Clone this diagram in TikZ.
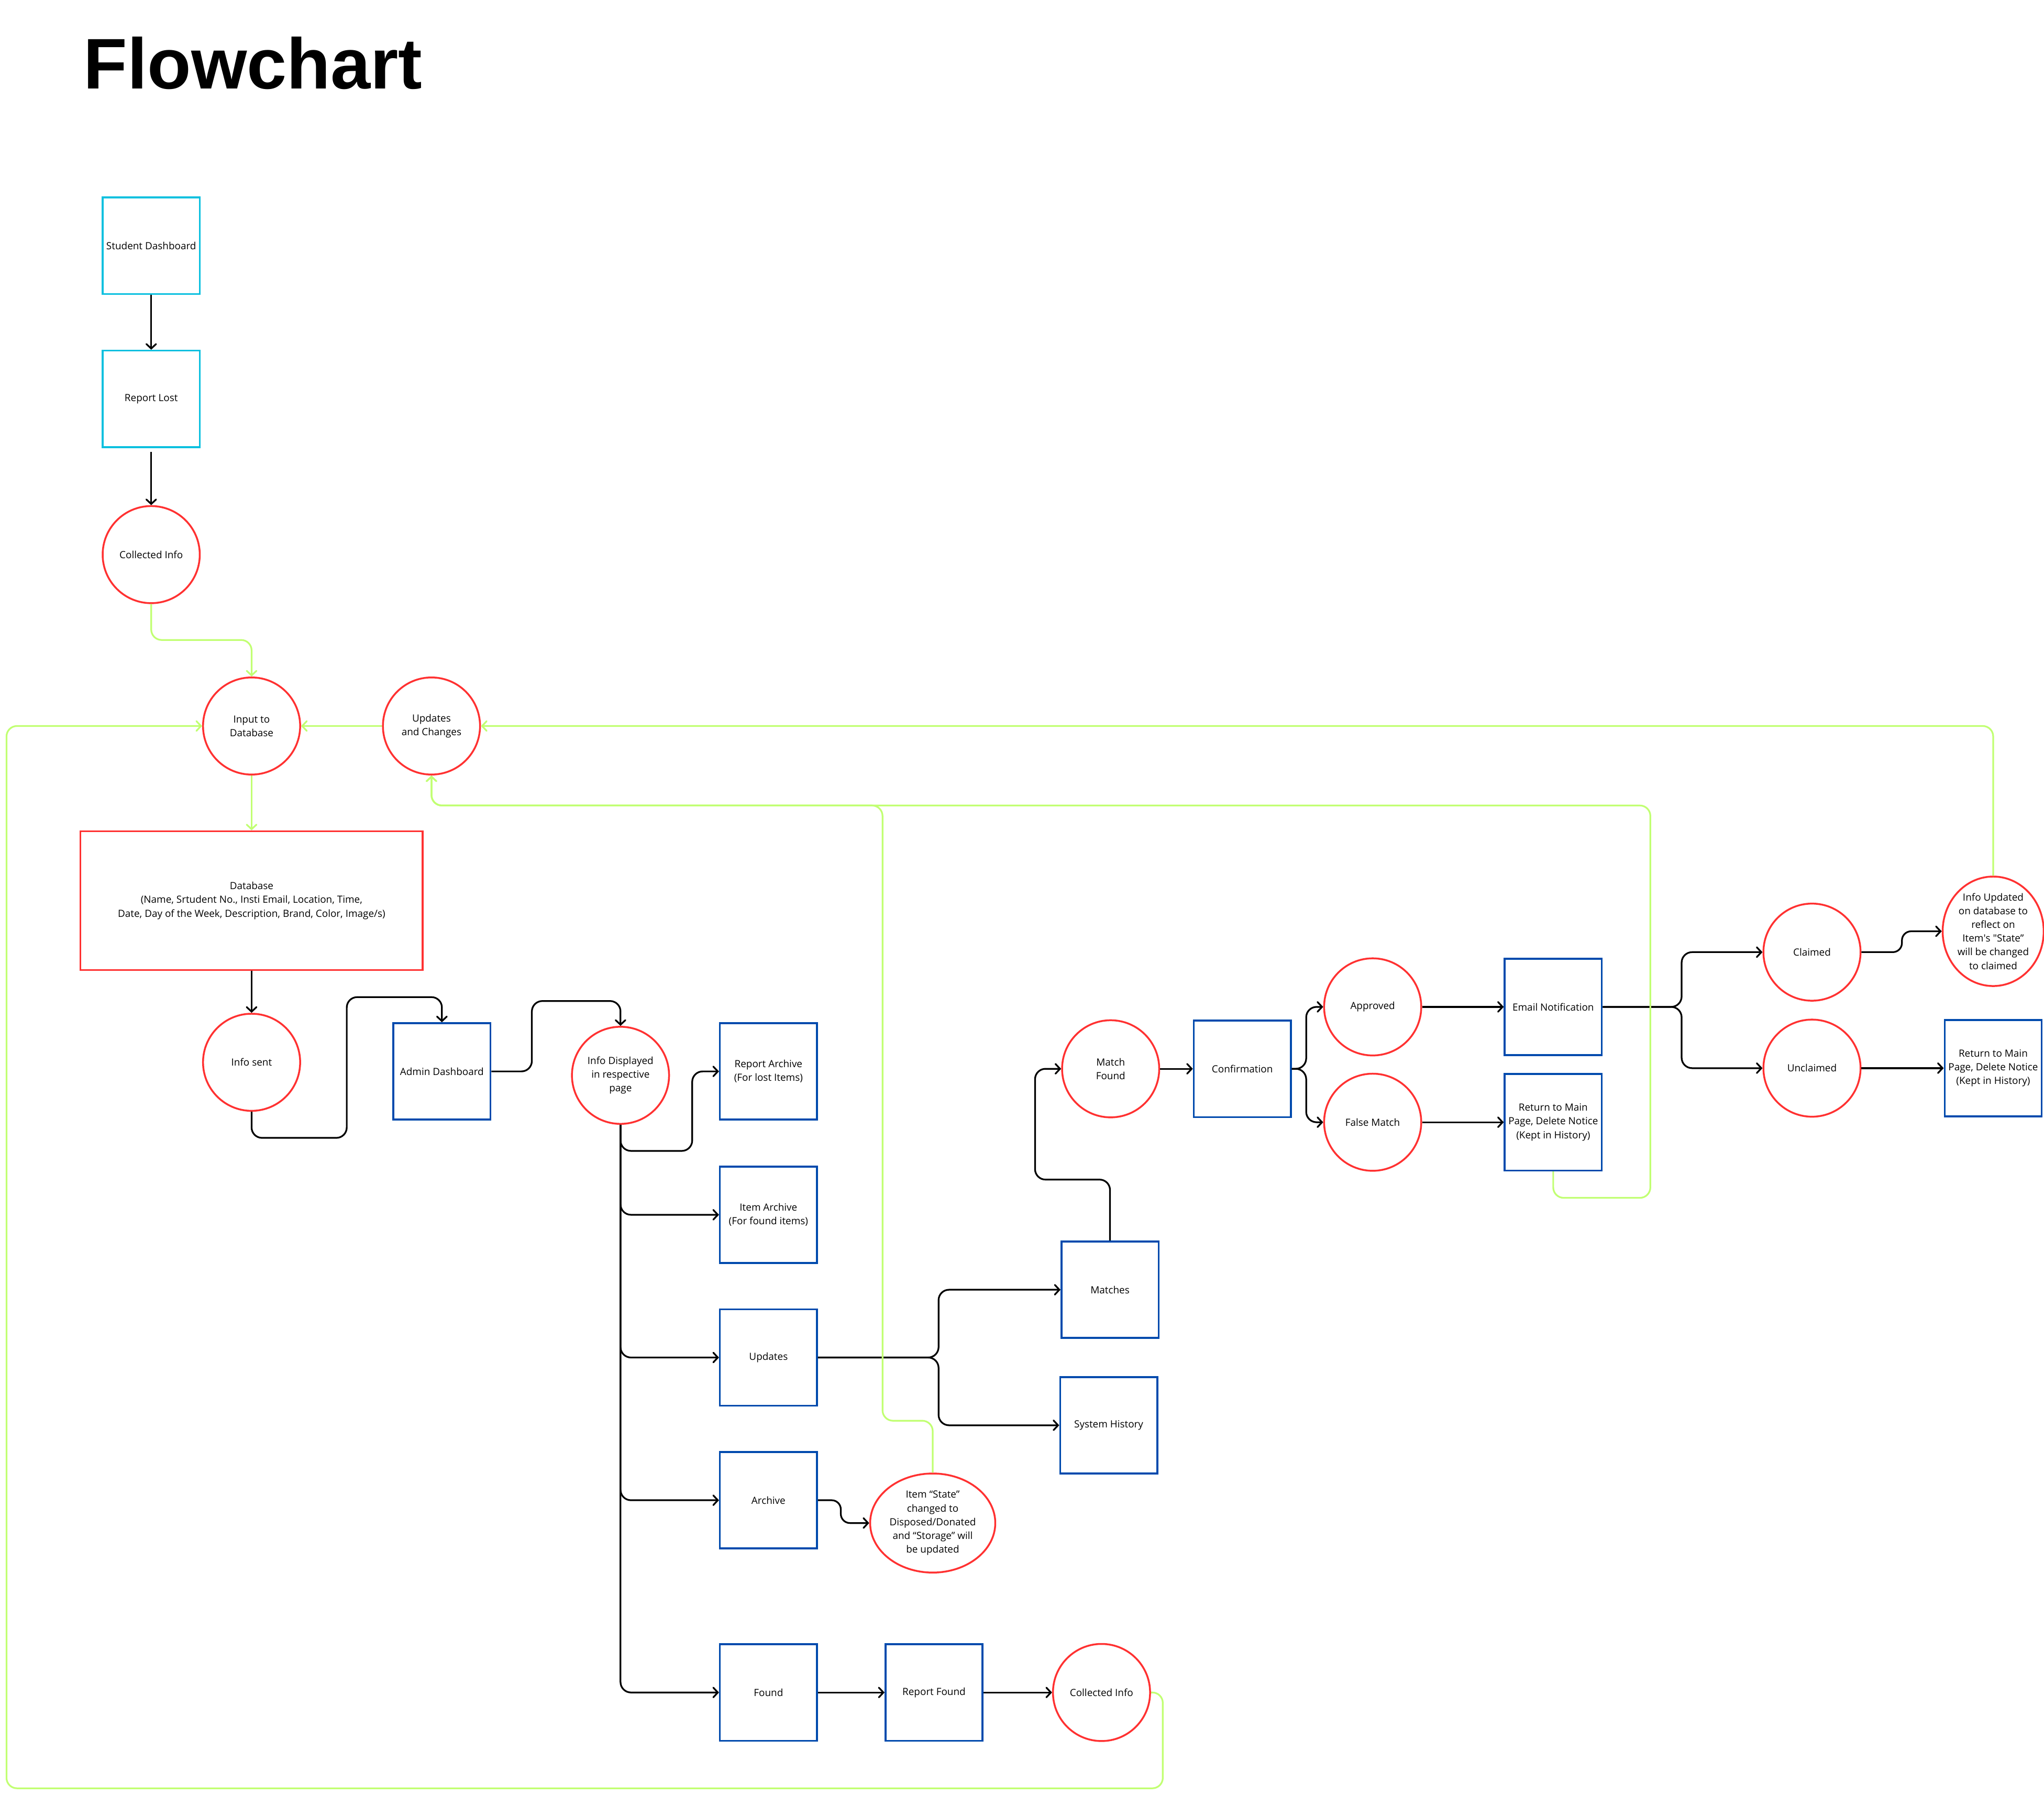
\documentclass[tikz,border=0pt]{standalone}
\usepackage{fontspec}
\setmainfont{Open Sans}
\newfontfamily\titlefont{Liberation Sans}
\usetikzlibrary{shapes.geometric,arrows.meta}
\definecolor{redc}{HTML}{FF3131}
\definecolor{bluec}{HTML}{004AAD}
\definecolor{cyanc}{HTML}{0CC0DF}
\definecolor{greenc}{HTML}{C1FF72}
\tikzset{
  lbl/.style={align=center, font=\fontsize{7.6}{10.5}\selectfont, text=black},
  box/.style={lbl, rectangle, draw, line width=1.4pt, minimum width=74.5pt, minimum height=74pt, inner sep=1pt},
  cbox/.style={box, draw=cyanc},
  bbox/.style={box, draw=bluec},
  rbox/.style={box, draw=redc},
  circ/.style={lbl, ellipse, draw=redc, line width=1.4pt, minimum width=74.5pt, minimum height=74.5pt, inner sep=0pt},
  tip/.style={-{Straight Barb[length=3.5pt,width=7.5pt,line cap=round]}},
  blk/.style={draw=black, line width=1.3pt, rounded corners=8pt, tip},
  grn/.style={draw=greenc, line width=1.3pt, rounded corners=8pt, tip},
}
\begin{document}
\begin{tikzpicture}[x=1pt,y=1pt]
\useasboundingbox[fill=white] (0,0) rectangle (1568,-1377);

% title
\node[anchor=base west, inner sep=0pt, font=\titlefont\bfseries\fontsize{55}{60}\selectfont] (title) at (64,-68) {Flowchart};

% student side
\node[cbox] (sdash) at (116,-188.5) {Student Dashboard};
\node[cbox] (rlost) at (116,-306) {Report Lost};
\node[circ] (coll1) at (116,-425.5) {Collected Info};

% database area
\node[circ] (input) at (193,-557) {Input to\\Database};
\node[circ] (updch) at (331,-557) {Updates\\and Changes};
\node[rbox, minimum width=262.5pt, minimum height=106.5pt] (db) at (193,-691) {Database\\(Name, Srtudent No., Insti Email, Location, Time,\\Date, Day of the Week, Description, Brand, Color, Image/s)};
\node[circ] (isent) at (193,-815) {Info sent};
\node[bbox] (admin) at (339,-822) {Admin Dashboard};
\node[circ] (idisp) at (476,-825) {Info Displayed\\in respective\\page};

% archive column
\node[bbox] (rarch) at (589.5,-822) {Report Archive\\(For lost Items)};
\node[bbox] (iarch) at (589.5,-932) {Item Archive\\(For found items)};
\node[bbox] (upd) at (589.5,-1041.5) {Updates};
\node[bbox] (arch) at (589.5,-1151) {Archive};
\node[bbox] (found) at (589.5,-1298.5) {Found};
\node[bbox] (rfound) at (716.5,-1298.5) {Report Found};
\node[circ] (coll2) at (845,-1298.5) {Collected Info};
\node[circ, minimum width=96pt, minimum height=76pt] (istate) at (715.5,-1168.5) {Item “State”\\changed to\\Disposed/Donated\\and “Storage” will\\be updated};

% matching
\node[bbox] (matches) at (851.5,-989.5) {Matches};
\node[bbox] (syshist) at (850.5,-1093.5) {System History};
\node[circ] (mfound) at (852,-820) {Match\\Found};
\node[bbox] (conf) at (953,-820) {Confirmation};
\node[circ] (appr) at (1053,-772.5) {Approved};
\node[circ] (fmatch) at (1053,-861) {False Match};
\node[bbox] (email) at (1191.5,-772.5) {Email Notification};
\node[bbox] (ret1) at (1191.5,-861) {Return to Main\\Page, Delete Notice\\(Kept in History)};
\node[circ] (claimed) at (1390,-730.5) {Claimed};
\node[circ] (unclaimed) at (1390,-819.5) {Unclaimed};
\node[circ, minimum width=74.5pt, minimum height=84pt] (iupd) at (1529,-714.5) {Info Updated\\on database to\\reflect on\\Item\textquotesingle s \textquotedbl State”\\will be changed\\to claimed};
\node[bbox] (ret2) at (1529,-819.5) {Return to Main\\Page, Delete Notice\\(Kept in History)};

% black connectors
\draw[blk] (sdash.south) -- (rlost.north);
\draw[blk] ([yshift=-3pt]rlost.south) -- (coll1.north);
\draw[blk] (db.south) -- (isent.north);
\draw[blk] (isent.south) -- (193,-873) -- (266,-873) -- (266,-765) -- (339,-765) -- (admin.north);
\draw[blk] (admin.east) -- (408,-822) -- (408,-768) -- (476,-768) -- (idisp.north);
\draw[blk] (idisp.south) -- (476,-883) -- (531,-883) -- (531,-822) -- (rarch.west);
\draw[blk] (idisp.south) -- (476,-932) -- (iarch.west);
\draw[blk] (idisp.south) -- (476,-1041.5) -- (upd.west);
\draw[blk] (idisp.south) -- (476,-1151) -- (arch.west);
\draw[blk] (idisp.south) -- (476,-1298.5) -- (found.west);
\draw[blk] (upd.east) -- (720,-1041.5) -- (720,-989.5) -- (matches.west);
\draw[blk] (upd.east) -- (720,-1041.5) -- (720,-1093.5) -- (syshist.west);
\draw[blk, rounded corners=7pt] (arch.east) -- (645,-1151) -- (645,-1168.5) -- (istate.west);
\draw[blk] (found.east) -- (rfound.west);
\draw[blk] (rfound.east) -- (coll2.west);
\draw[blk] (matches.north) -- (851.5,-905) -- (794,-905) -- (794,-820) -- (mfound.west);
\draw[blk] (mfound.east) -- (conf.west);
\draw[blk] (conf.east) -- (1002,-820) -- (1002,-772.5) -- (appr.west);
\draw[blk] (conf.east) -- (1002,-820) -- (1002,-861) -- (fmatch.west);
\draw[blk] (appr.east) -- (email.west);
\draw[blk] (fmatch.east) -- (ret1.west);
\draw[blk] (email.east) -- (1290,-772.5) -- (1290,-730.5) -- (claimed.west);
\draw[blk] (email.east) -- (1290,-772.5) -- (1290,-819.5) -- (unclaimed.west);
\draw[blk, rounded corners=7pt] (claimed.east) -- (1459,-730.5) -- (1459,-714.5) -- (iupd.west);
\draw[blk] (unclaimed.east) -- (ret2.west);

% green connectors
\draw[grn] (coll1.south) -- (116,-491) -- (193,-491) -- (input.north);
\draw[grn] (input.south) -- (db.north);
\draw[grn] (updch.west) -- (input.east);
\draw[grn] (iupd.north) -- (1529,-557) -- (updch.east);
\draw[grn] (ret1.south) -- (1191.5,-919) -- (1266,-919) -- (1266,-618) -- (331,-618) -- (updch.south);
\draw[grn] (istate.north) -- (715.5,-1090) -- (677,-1090) -- (677,-618) -- (331,-618) -- (updch.south);
\draw[grn] (coll2.east) -- (892,-1298.5) -- (892,-1372) -- (5,-1372) -- (5,-557) -- (input.west);
\end{tikzpicture}
\end{document}
